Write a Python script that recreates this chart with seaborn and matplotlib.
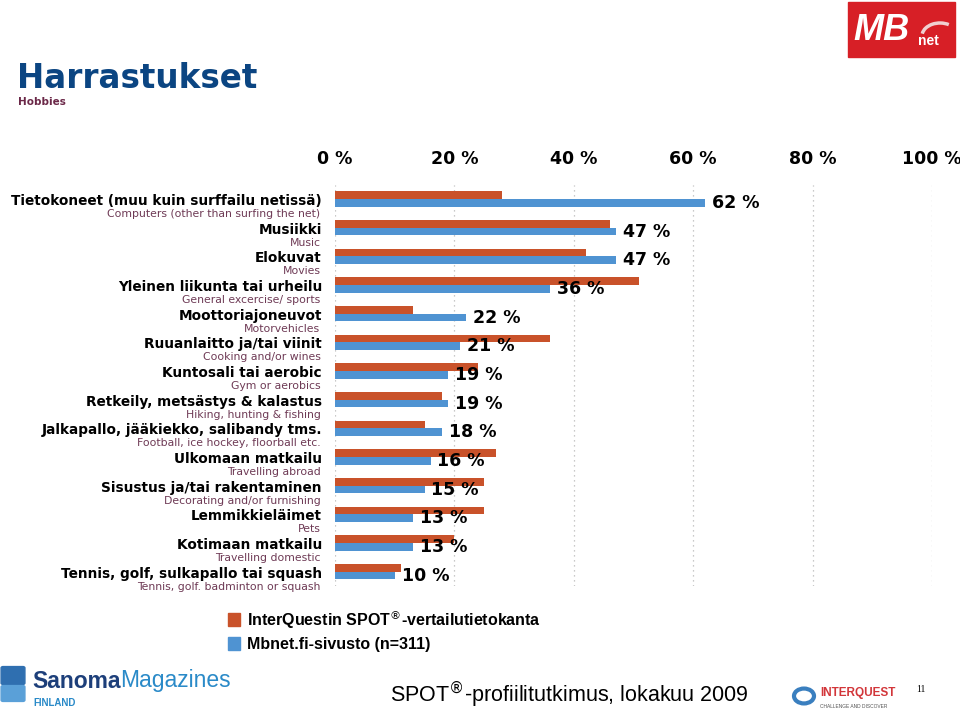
import pandas as pd
import matplotlib
matplotlib.use('Agg')
import matplotlib.pyplot as plt
import seaborn as sns
from matplotlib.patches import Rectangle, Circle, FancyBboxPatch, Arc

# harrastukset, suomeksi ja englanniksi
cats_fi = ['Tietokoneet (muu kuin surffailu netissä)', 'Musiikki', 'Elokuvat',
           'Yleinen liikunta tai urheilu', 'Moottoriajoneuvot', 'Ruuanlaitto ja/tai viinit',
           'Kuntosali tai aerobic', 'Retkeily, metsästys & kalastus',
           'Jalkapallo, jääkiekko, salibandy tms.', 'Ulkomaan matkailu',
           'Sisustus ja/tai rakentaminen', 'Lemmikkieläimet', 'Kotimaan matkailu',
           'Tennis, golf, sulkapallo tai squash']
cats_en = ['Computers (other than surfing the net)', 'Music', 'Movies',
           'General excercise/ sports', 'Motorvehicles', 'Cooking and/or wines',
           'Gym or aerobics', 'Hiking, hunting & fishing',
           'Football, ice hockey, floorball etc.', 'Travelling abroad',
           'Decorating and/or furnishing', 'Pets', 'Travelling domestic',
           'Tennis, golf. badminton or squash']
spot = [28, 46, 42, 51, 13, 36, 24, 18, 15, 27, 25, 25, 20, 11]
mbnet = [62, 47, 47, 36, 22, 21, 19, 19, 18, 16, 15, 13, 13, 10]
series = ['InterQuestin SPOT', 'Mbnet.fi-sivusto (n=311)']
xticks = [0, 20, 40, 60, 80, 100]

orange = '#C9522A'
blue = '#4F93D2'

df = pd.DataFrame({
    'cat': cats_fi * 2,
    'value': spot + mbnet,
    'source': [series[0]] * len(spot) + [series[1]] * len(mbnet),
})

sns.set_style('white')
plt.rcParams['font.family'] = ['DejaVu Sans']
plt.rcParams['text.color'] = 'black'
plt.rcParams['xtick.color'] = 'black'

W, H = 960, 715
fig = plt.figure(figsize=(9.6, 7.15), dpi=100)


def fx(x):
    return x / W


def fy(y):
    return 1 - y / H


ax = fig.add_axes([fx(335), fy(586), fx(932) - fx(335), fy(184.7) - fy(586)])
sns.barplot(data=df, y='cat', x='value', hue='source', order=cats_fi,
            hue_order=series, palette=[orange, blue], orient='h',
            width=0.54, errorbar=None, legend=False, ax=ax, saturation=1,
            linewidth=0)

ax.set_xlim(0, 100)
ax.set_xticks(xticks)
ax.set_xticklabels([f'{t} %' for t in xticks], fontsize=12.5, fontweight='bold')
ax.xaxis.tick_top()
ax.tick_params(axis='x', length=0, pad=12)
ax.set_yticks(range(len(cats_fi)))
ax.set_yticklabels([])
ax.tick_params(axis='y', length=0)
ax.set_xlabel('')
ax.set_ylabel('')
ax.xaxis.grid(True, linestyle=(0, (1, 3)), color='#b8b8b8', linewidth=0.9)
ax.set_axisbelow(True)
for s in ax.spines.values():
    s.set_visible(False)

# arvot sinisten palkkien perään
ax.bar_label(ax.containers[1], fmt='%d %%', padding=5, fontsize=12.5,
             fontweight='bold', color='black')

# kaksikieliset kategorianimet
for i, (fi, en) in enumerate(zip(cats_fi, cats_en)):
    ax.annotate(fi, xy=(0, i), xycoords=('axes fraction', 'data'),
                xytext=(-9.4, -1.4), textcoords='offset points',
                ha='right', va='center', fontsize=9.8, fontweight='bold')
    ax.annotate(en, xy=(0, i), xycoords=('axes fraction', 'data'),
                xytext=(-10.5, -10.8), textcoords='offset points',
                ha='right', va='center', fontsize=7.8, color='#6e3a55')

# otsikko
fig.text(fx(17), fy(78), 'Harrastukset', fontsize=23.5, fontweight='bold',
         color='#0b4582', va='center')
fig.text(fx(18), fy(102), 'Hobbies', fontsize=7.5, fontweight='bold',
         color='#6b2848', va='center')

# selite
fig.add_artist(Rectangle((fx(228), fy(626)), fx(12), 13 / H,
                         transform=fig.transFigure, color=orange))
fig.add_artist(Rectangle((fx(228), fy(650)), fx(12), 13 / H,
                         transform=fig.transFigure, color=blue))
fig.text(fx(247), fy(620), 'InterQuestin SPOT$^{®}$-vertailutietokanta',
         family='Liberation Sans', fontweight='bold', fontsize=11.5, va='center')
fig.text(fx(247), fy(644), 'Mbnet.fi-sivusto (n=311)',
         family='Liberation Sans', fontweight='bold', fontsize=11.5, va='center')

# alatunniste
fig.text(fx(390), fy(695), 'SPOT$^{®}$-profiilitutkimus, lokakuu 2009',
         family='Liberation Sans', fontsize=15.5, va='center')
fig.text(fx(916), fy(690), '11', family='Liberation Serif', fontsize=7, va='center')

# MBnet-logo
fig.add_artist(Rectangle((fx(848), fy(57)), fx(107), 55 / H,
                         transform=fig.transFigure, color='#D71F26'))
fig.text(fx(853), fy(31), 'MB', color='white', fontsize=26, fontweight='bold',
         style='italic', va='center', family='Liberation Sans')
fig.text(fx(918), fy(41), 'net', color='white', fontsize=10, fontweight='bold',
         va='center', family='Liberation Sans')
fig.add_artist(Arc((fx(940), fy(36)), fx(36), 26 / H, theta1=60, theta2=170,
                   transform=fig.transFigure, color='#f0d0d0', linewidth=2.5))

# Sanoma Magazines -logo
fig.add_artist(FancyBboxPatch((fx(3), fy(683)), fx(20), 15 / H,
                              boxstyle='round,pad=0.002', transform=fig.transFigure,
                              color='#2f6fb0'))
fig.add_artist(FancyBboxPatch((fx(3), fy(700)), fx(20), 13 / H,
                              boxstyle='round,pad=0.002', transform=fig.transFigure,
                              color='#5aa0d8'))
t = fig.text(fx(32), fy(681), 'Sanoma', family='Liberation Sans', fontweight='bold',
             fontsize=16.5, color='#1d3f7a', va='center')
bb = t.get_window_extent(renderer=fig.canvas.get_renderer())
fig.text(bb.x1 / W, fy(681), 'Magazines', family='Liberation Sans',
         fontsize=16.5, color='#2a8ac8', va='center')
fig.text(fx(33), fy(703), 'FINLAND', family='Liberation Sans', fontweight='bold',
         fontsize=7, color='#2a8ac8', va='center')

# InterQuest-logo
fig.add_artist(Circle((fx(804), fy(696)), 10 / W, transform=fig.transFigure,
                      fill=False, edgecolor='#3a7fbf', linewidth=3))
fig.text(fx(820), fy(693), 'INTERQUEST', family='Liberation Sans', fontweight='bold',
         fontsize=8.5, color='#d2363a', va='center')
fig.text(fx(820), fy(706), 'CHALLENGE AND DISCOVER', family='Liberation Sans',
         fontsize=3.5, color='#555555', va='center')

fig.savefig('out.png', dpi=100)
